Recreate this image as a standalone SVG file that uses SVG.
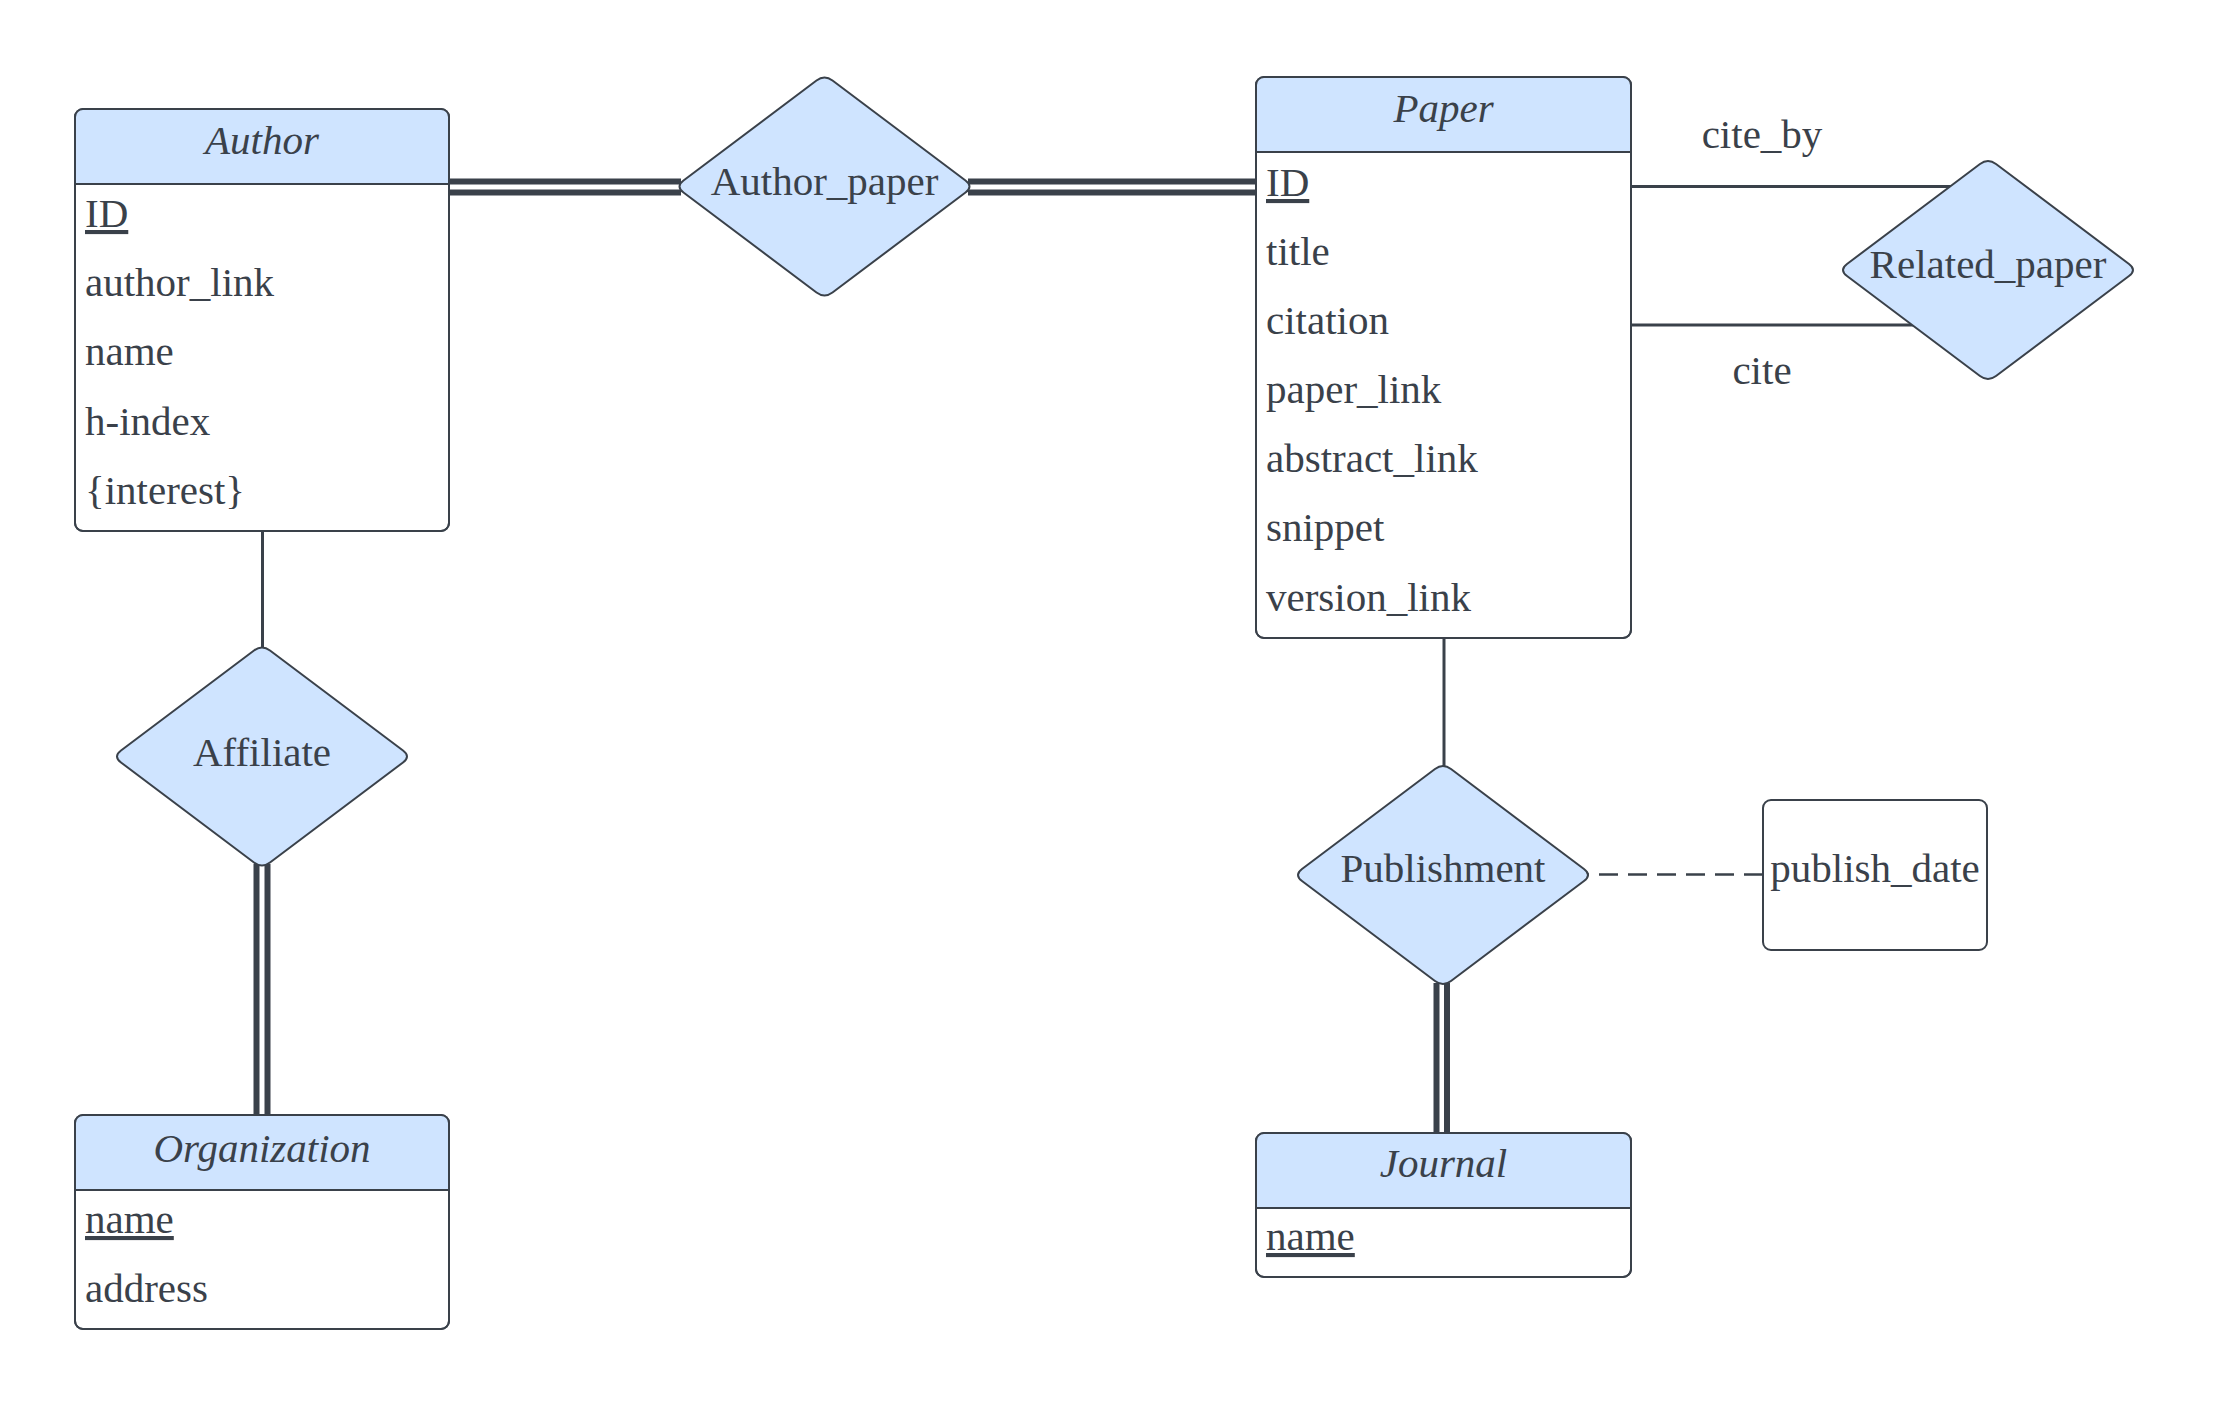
<svg xmlns="http://www.w3.org/2000/svg" xmlns:xlink="http://www.w3.org/1999/xlink" width="2213" height="1404" viewBox="0 0 2213 1404">
<style>
.box{fill:#fff;stroke:#3a414a;stroke-width:2}
.hdr{fill:#cfe4ff}
.outline{fill:none;stroke:#3a414a;stroke-width:2}
.sep{stroke:#3a414a;stroke-width:2}
.dia{fill:#cfe4ff;stroke:#3a414a;stroke-width:2}
.t{font-family:"Liberation Serif",serif;font-size:41px;fill:#3a414a}
.c{text-anchor:middle}
.i{font-style:italic;text-anchor:middle}
.u{text-decoration:underline}
.ln{stroke:#3a414a;stroke-width:3;fill:none}
.dbl{stroke:#3a414a;stroke-width:6;fill:none}
.dash{stroke:#3a414a;stroke-width:2.5;stroke-dasharray:19 10;fill:none}
</style>
<defs>
<path id="dia" d="M8,-106 L141,-6 Q149,0 141,6 L8,106 Q0,112 -8,106 L-141,6 Q-149,0 -141,-6 L-8,-106 Q0,-112 8,-106 Z"/>
</defs>
<rect width="2213" height="1404" fill="#fff"/>
<g id="connectors">
<line class="dbl" x1="449" y1="181.5" x2="681" y2="181.5"/>
<line class="dbl" x1="449" y1="192.5" x2="681" y2="192.5"/>
<line class="dbl" x1="968" y1="181.5" x2="1256" y2="181.5"/>
<line class="dbl" x1="968" y1="192.5" x2="1256" y2="192.5"/>
<line class="ln" x1="1631" y1="186.5" x2="1952" y2="186.5"/>
<line class="ln" x1="1631" y1="325" x2="1916" y2="325"/>
<line class="ln" x1="262.5" y1="531" x2="262.5" y2="649"/>
<line class="dbl" x1="256.5" y1="864" x2="256.5" y2="1115"/>
<line class="dbl" x1="267.5" y1="864" x2="267.5" y2="1115"/>
<line class="ln" x1="1444" y1="638" x2="1444" y2="767"/>
<line class="dbl" x1="1436.5" y1="983" x2="1436.5" y2="1133"/>
<line class="dbl" x1="1447" y1="983" x2="1447" y2="1133"/>
<line class="dash" x1="1763" y1="874.5" x2="1588" y2="874.5"/>
<text class="t c" x="1762" y="148">cite_by</text>
<text class="t c" x="1762" y="384">cite</text>
</g>
<g id="author">
<rect class="box" x="75" y="109" width="374" height="422" rx="8"/>
<path class="hdr" d="M75,184 L75,117 Q75,109 83,109 L441,109 Q449,109 449,117 L449,184 Z"/>
<line class="sep" x1="75" y1="184" x2="449" y2="184"/>
<rect class="outline" x="75" y="109" width="374" height="422" rx="8"/>
<text class="t i" x="262" y="154">Author</text>
<text class="t u" x="85" y="227">ID</text>
<text class="t" x="85" y="296">author_link</text>
<text class="t" x="85" y="365">name</text>
<text class="t" x="85" y="435">h-index</text>
<text class="t" x="85" y="504">{interest}</text>
</g>
<g id="author_paper">
<use href="#dia" x="824.5" y="186.5" class="dia"/>
<text class="t c" x="824.5" y="195">Author_paper</text>
</g>
<g id="paper">
<rect class="box" x="1256" y="77" width="375" height="561" rx="8"/>
<path class="hdr" d="M1256,152 L1256,85 Q1256,77 1264,77 L1623,77 Q1631,77 1631,85 L1631,152 Z"/>
<line class="sep" x1="1256" y1="152" x2="1631" y2="152"/>
<rect class="outline" x="1256" y="77" width="375" height="561" rx="8"/>
<text class="t i" x="1443.5" y="122">Paper</text>
<text class="t u" x="1266" y="196">ID</text>
<text class="t" x="1266" y="265">title</text>
<text class="t" x="1266" y="334">citation</text>
<text class="t" x="1266" y="403">paper_link</text>
<text class="t" x="1266" y="472">abstract_link</text>
<text class="t" x="1266" y="541">snippet</text>
<text class="t" x="1266" y="611">version_link</text>
</g>
<g id="related_paper">
<use href="#dia" x="1988" y="270" class="dia"/>
<text class="t c" x="1988" y="278">Related_paper</text>
</g>
<g id="affiliate">
<use href="#dia" x="262" y="756.5" class="dia"/>
<text class="t c" x="262" y="766">Affiliate</text>
</g>
<g id="organization">
<rect class="box" x="75" y="1115" width="374" height="214" rx="8"/>
<path class="hdr" d="M75,1190 L75,1123 Q75,1115 83,1115 L441,1115 Q449,1115 449,1123 L449,1190 Z"/>
<line class="sep" x1="75" y1="1190" x2="449" y2="1190"/>
<rect class="outline" x="75" y="1115" width="374" height="214" rx="8"/>
<text class="t i" x="262" y="1162">Organization</text>
<text class="t u" x="85" y="1233">name</text>
<text class="t" x="85" y="1302">address</text>
</g>
<g id="publishment">
<use href="#dia" x="1443" y="875" class="dia"/>
<text class="t c" x="1443" y="882">Publishment</text>
</g>
<g id="publish_date">
<rect class="box" x="1763" y="800" width="224" height="150" rx="8"/>
<text class="t c" x="1875" y="882">publish_date</text>
</g>
<g id="journal">
<rect class="box" x="1256" y="1133" width="375" height="144" rx="8"/>
<path class="hdr" d="M1256,1208 L1256,1141 Q1256,1133 1264,1133 L1623,1133 Q1631,1133 1631,1141 L1631,1208 Z"/>
<line class="sep" x1="1256" y1="1208" x2="1631" y2="1208"/>
<rect class="outline" x="1256" y="1133" width="375" height="144" rx="8"/>
<text class="t i" x="1443.5" y="1177">Journal</text>
<text class="t u" x="1266" y="1250">name</text>
</g>
</svg>
